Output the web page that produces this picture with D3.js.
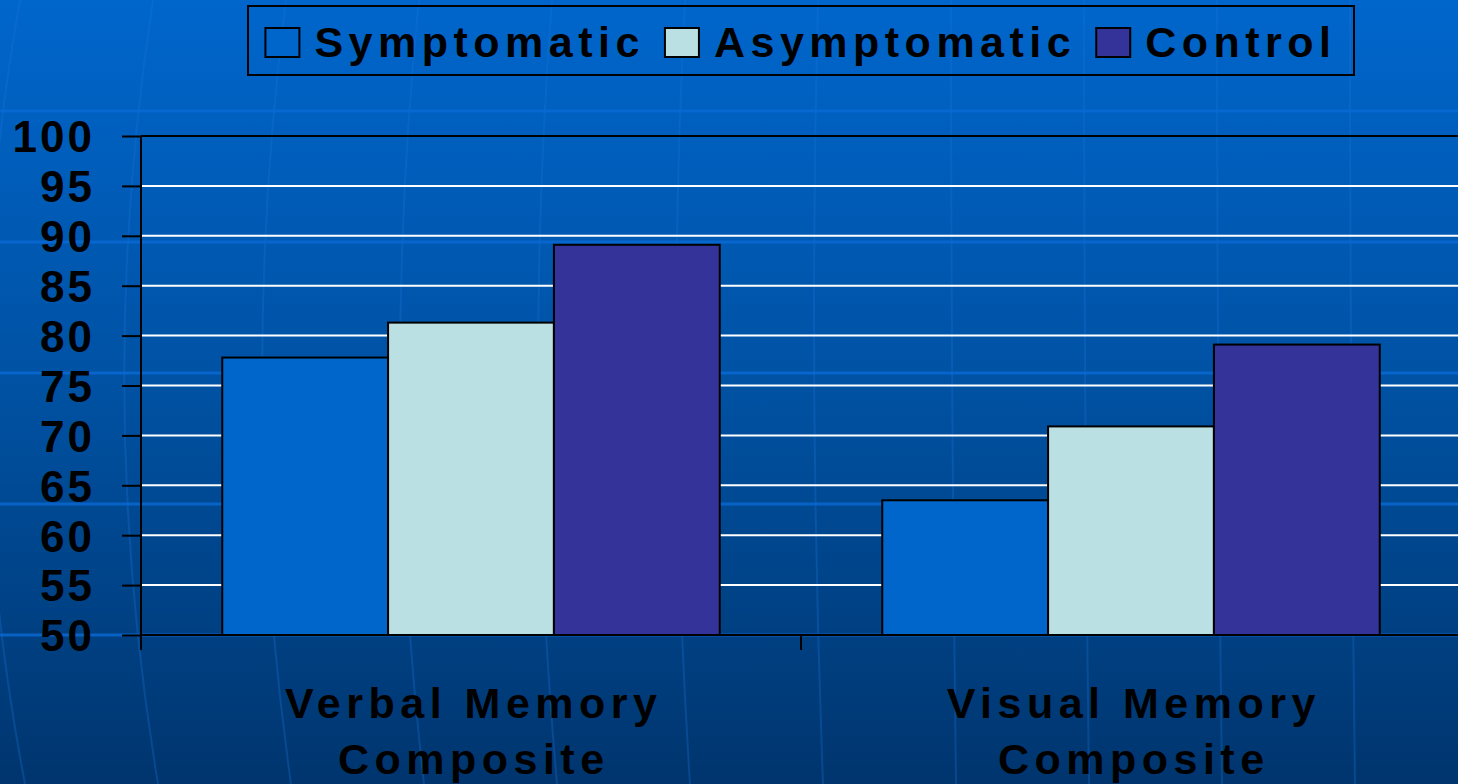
<!DOCTYPE html>
<html>
<head>
<meta charset="utf-8">
<script src="https://cdn.jsdelivr.net/npm/d3@7"></script>
<style>
html, body { margin: 0; padding: 0; background: #004a98; }
svg { display: block; }
text { font-family: "Liberation Sans", Arial, "DejaVu Sans", sans-serif; font-weight: bold; fill: #000; }
</style>
</head>
<body>
<svg id="chart" width="1458" height="784"></svg>
<script>
// ---- data ----
const categories = [["Verbal Memory", "Composite"], ["Visual Memory", "Composite"]];
const categoryKeys = ["Verbal Memory Composite", "Visual Memory Composite"];
const seriesNames = ["Symptomatic", "Asymptomatic", "Control"];
const symptomatic = [77.8, 63.5];
const asymptomatic = [81.3, 70.9];
const control = [89.1, 79.1];
const yTicks = [50, 55, 60, 65, 70, 75, 80, 85, 90, 95, 100];
const seriesColors = ["#0066CC", "#BBE0E3", "#333399"];

const seriesValues = [symptomatic, asymptomatic, control];

const W = 1458, H = 784;
const svg = d3.select("#chart");

// ---- background ----
const defs = svg.append("defs");
const grad = defs.append("linearGradient").attr("id", "bg").attr("x1", 0).attr("y1", 0).attr("x2", 0).attr("y2", 1);
grad.append("stop").attr("offset", "0%").attr("stop-color", "#0066cc");
grad.append("stop").attr("offset", "50%").attr("stop-color", "#0051a2");
grad.append("stop").attr("offset", "100%").attr("stop-color", "#00356e");
svg.append("rect").attr("width", W).attr("height", H).attr("fill", "url(#bg)");

const deco = svg.append("g").attr("class", "deco");
// faint meridian-like curves
for (let i = 0; i < 12; i++) {
  const x0 = 20 + i * 133;
  const bow = Math.max(0, 70 - i * 10);
  const x1 = x0 + 5;
  deco.append("path")
    .attr("d", `M${x0},0 Q${x0 - bow},392 ${x1},${H}`)
    .attr("fill", "none")
    .attr("stroke", "#1a74d8")
    .attr("stroke-opacity", 0.3)
    .attr("stroke-width", 2);
}
// faint horizontal bands
for (let k = 0; k < 5; k++) {
  const y = 111 + k * 131;
  deco.append("line").attr("x1", 0).attr("x2", W).attr("y1", y).attr("y2", y)
    .attr("stroke", "#0a6ad4").attr("stroke-opacity", 0.8).attr("stroke-width", 3);
}

// ---- scales ----
const plotLeft = 141, plotRight = 1461, plotTop = 136, plotBottom = 635;
const y = d3.scaleLinear().domain([50, 100]).range([plotBottom, plotTop]);
const x0 = d3.scaleBand().domain(categoryKeys).range([plotLeft, plotRight]).paddingInner(0).paddingOuter(0);
const x1 = d3.scaleBand().domain(seriesNames).range([0, x0.bandwidth()]).paddingInner(0).paddingOuter(0.49);

// gridlines
const grid = svg.append("g");
grid.selectAll("line").data(yTicks.filter(t => t > 50 && t < 100)).join("line")
  .attr("x1", plotLeft).attr("x2", W)
  .attr("y1", d => y(d)).attr("y2", d => y(d))
  .attr("stroke", "#ffffff").attr("stroke-width", 2);
// top border
svg.append("line").attr("x1", plotLeft).attr("x2", W).attr("y1", y(100)).attr("y2", y(100))
  .attr("stroke", "#000").attr("stroke-width", 2);

// bars
const groups = svg.append("g").selectAll("g").data(categoryKeys).join("g")
  .attr("transform", d => `translate(${x0(d)},0)`);
groups.selectAll("rect").data((d, ci) => seriesNames.map((s, si) => ({ s, si, v: seriesValues[si][ci] })))
  .join("rect")
  .attr("x", d => x1(d.s))
  .attr("width", x1.bandwidth())
  .attr("y", d => y(d.v))
  .attr("height", d => y(50) - y(d.v))
  .attr("fill", d => seriesColors[d.si])
  .attr("stroke", "#000").attr("stroke-width", 2);

// y axis
const yAxis = d3.axisLeft(y).tickValues(yTicks).tickSize(19).tickPadding(0).tickFormat(d3.format("d"));
const yg = svg.append("g").attr("transform", `translate(${plotLeft},0)`).call(yAxis);
yg.select(".domain").remove();
yg.selectAll(".tick line").attr("stroke", "#000").attr("stroke-width", 2);
yg.selectAll(".tick text")
  .attr("x", -46)
  .attr("dy", "0.36em")
  .style("font-size", "44px")
  .style("letter-spacing", "3px")
  .style("font-family", '"Liberation Sans", Arial, sans-serif')
  .style("font-weight", "bold")
  .attr("fill", "#000");
svg.append("line").attr("x1", plotLeft).attr("x2", plotLeft).attr("y1", plotTop).attr("y2", plotBottom + 15)
  .attr("stroke", "#000").attr("stroke-width", 2);

// x axis
const xAxis = d3.axisBottom(x0).tickSize(0).tickFormat("");
const xg = svg.append("g").attr("transform", `translate(0,${plotBottom})`).call(xAxis);
xg.select(".domain").attr("d", `M${plotLeft},0H${W}`).attr("stroke", "#000").attr("stroke-width", 2);
// category separator tick
xg.append("line").attr("x1", x0(categoryKeys[1])).attr("x2", x0(categoryKeys[1]))
  .attr("y1", 0).attr("y2", 15).attr("stroke", "#000").attr("stroke-width", 2);

// category labels
const catLabels = svg.append("g");
categoryKeys.forEach((k, i) => {
  const cx = x0(k) + x0.bandwidth() / 2;
  const t = catLabels.append("text").attr("text-anchor", "middle")
    .style("font-size", "43px").style("letter-spacing", "5.5px");
  categories[i].forEach((line, li) => {
    t.append("tspan").attr("x", cx + 2.75).attr("y", 718 + li * 56).text(line);
  });
});

// legend
const legend = svg.append("g");
legend.append("rect").attr("x", 248).attr("y", 6).attr("width", 1106).attr("height", 69)
  .attr("fill", "none").attr("stroke", "#000").attr("stroke-width", 2);
const items = legend.selectAll("g.item").data(seriesNames).join("g").attr("class", "item");
items.append("rect").attr("width", 34).attr("height", 29).attr("y", 28)
  .attr("fill", (d, i) => seriesColors[i]).attr("stroke", "#000").attr("stroke-width", 2);
items.append("text").attr("y", 57).style("font-size", "43px").style("letter-spacing", "5.5px").text(d => d);
// layout sequentially, centered on box center
const widths = [];
items.select("text").each(function () { widths.push(this.getComputedTextLength()); });
const swW = 34, gapSwText = 15, gapItems = 20;
let total = 0;
widths.forEach((w, i) => { total += swW + gapSwText + w + (i < widths.length - 1 ? gapItems : 0); });
let cur = 801 - total / 2;
items.each(function (d, i) {
  const g = d3.select(this);
  g.select("rect").attr("x", cur);
  g.select("text").attr("x", cur + swW + gapSwText);
  cur += swW + gapSwText + widths[i] + gapItems;
});
</script>
</body>
</html>
